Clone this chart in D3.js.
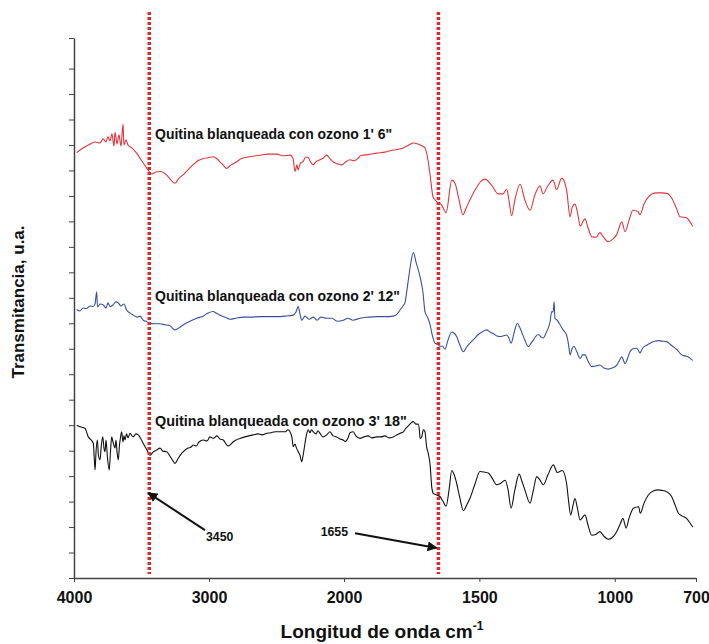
<!DOCTYPE html>
<html>
<head>
<meta charset="utf-8">
<script src="https://cdn.jsdelivr.net/npm/d3@7"></script>
<style>
  body { margin: 0; background: #fff; }
  svg { display: block; font-family: "Liberation Sans", Arial, sans-serif; }
</style>
</head>
<body>
<div id="chart"></div>
<script>
// wavenumber (cm-1) ticks of the FTIR axis, scale changes at 2000
const xTicks = [4000, 3000, 2000, 1500, 1000, 700];
const markers = [3450, 1655];

const seriesNames = [
  "Quitina blanqueada con ozono 1' 6\"",
  "Quitina blanqueada con ozono 2' 12\"",
  "Quitina blanqueada con ozono 3' 18\""
];

// transmittance, arbitrary units (curves are offset)
const spectrum1 = [
  [3980,83.5],[3933,84.4],[3894,85.0],[3844,85.6],[3807,85.4],[3785,86.2],[3763,85.6],[3748,86.6],
  [3733,85.8],[3719,87.2],[3704,84.8],[3696,87.5],[3681,85.2],[3667,87.0],[3652,84.8],[3637,89.1],
  [3630,85.0],[3615,86.0],[3600,85.0],[3570,84.4],[3536,83.4],[3504,82.1],[3462,80.5],[3424,79.3],
  [3392,79.7],[3363,79.8],[3313,79.1],[3281,78.1],[3252,77.5],[3222,78.5],[3193,79.1],[3156,80.1],
  [3119,81.1],[3082,81.9],[3044,82.3],[3007,82.5],[2970,82.7],[2941,82.3],[2919,81.7],[2896,81.1],
  [2869,80.4],[2837,81.1],[2795,81.7],[2763,82.3],[2721,82.6],[2674,82.8],[2622,83.0],[2563,83.2],
  [2499,83.2],[2452,82.9],[2400,83.0],[2378,82.4],[2363,79.8],[2348,81.1],[2341,80.1],[2322,81.5],
  [2304,81.7],[2285,82.6],[2267,82.6],[2248,81.7],[2230,81.1],[2207,81.7],[2178,82.1],[2156,82.4],
  [2128,83.0],[2104,82.3],[2081,81.7],[2052,81.3],[2017,81.1],[1993,81.7],[1978,82.1],[1963,81.9],
  [1948,82.4],[1941,82.8],[1935,83.0],[1911,83.1],[1879,83.4],[1849,83.6],[1819,84.0],[1793,84.2],
  [1767,84.8],[1745,85.4],[1727,85.2],[1708,84.7],[1701,84.4],[1690,82.1],[1682,79.1],[1671,74.8],
  [1658,73.9],[1639,73.2],[1623,71.7],[1602,78.1],[1590,77.5],[1575,74.2],[1561,71.3],[1549,72.6],
  [1535,74.2],[1510,76.7],[1494,77.9],[1479,78.3],[1455,77.1],[1430,75.4],[1413,75.4],[1399,76.3],
  [1391,74.2],[1381,71.1],[1369,74.2],[1350,77.3],[1332,74.2],[1313,72.2],[1295,75.2],[1276,77.0],
  [1265,75.4],[1247,77.0],[1228,78.1],[1215,76.2],[1196,78.5],[1178,76.2],[1165,70.9],[1158,72.6],
  [1147,73.4],[1136,71.3],[1128,69.1],[1110,70.5],[1099,68.8],[1085,67.0],[1069,66.9],[1055,67.8],
  [1040,66.8],[1024,66.0],[1010,66.4],[993,67.4],[974,69.9],[962,68.0],[947,70.3],[933,72.2],
  [914,71.9],[907,71.3],[892,73.4],[877,74.7],[863,75.4],[845,75.6],[826,75.6],[808,75.5],
  [790,74.6],[774,72.8],[759,70.9],[735,70.7],[722,69.9],[712,69.0]
];

const spectrum2 = [
  [3980,52.7],[3956,52.4],[3933,53.0],[3906,52.9],[3881,53.4],[3857,53.3],[3844,53.8],[3832,56.2],
  [3826,53.2],[3807,53.8],[3783,53.6],[3763,53.0],[3748,54.0],[3733,53.3],[3711,53.6],[3689,54.2],
  [3672,54.0],[3652,53.4],[3630,53.8],[3610,52.6],[3585,52.0],[3561,51.6],[3533,51.2],[3511,51.4],
  [3487,50.6],[3467,50.4],[3437,50.0],[3400,49.9],[3363,49.9],[3326,49.7],[3289,49.5],[3252,48.7],
  [3222,49.1],[3190,49.7],[3141,50.4],[3091,51.0],[3044,51.4],[3007,52.0],[2968,52.3],[2948,52.0],
  [2919,51.6],[2881,51.2],[2844,50.8],[2800,51.0],[2746,51.2],[2696,51.2],[2622,51.3],[2563,51.3],
  [2499,51.3],[2437,51.4],[2376,51.6],[2356,52.2],[2339,53.3],[2326,51.8],[2313,50.6],[2289,51.4],
  [2259,50.8],[2227,51.2],[2200,50.6],[2170,51.2],[2128,51.0],[2089,51.0],[2052,50.4],[2005,50.6],
  [1985,51.0],[1967,50.6],[1941,51.0],[1911,51.2],[1879,51.3],[1849,51.3],[1818,51.4],[1804,51.8],
  [1793,52.6],[1782,53.4],[1775,54.0],[1765,57.5],[1756,60.9],[1744,63.9],[1734,62.0],[1719,59.1],
  [1708,55.9],[1701,52.3],[1690,51.0],[1682,49.7],[1675,47.9],[1664,46.1],[1655,45.9],[1645,45.5],
  [1636,45.5],[1627,44.9],[1616,46.7],[1602,48.3],[1594,48.1],[1584,47.4],[1572,45.7],[1559,44.4],
  [1549,45.2],[1535,46.1],[1520,46.9],[1504,47.8],[1490,48.3],[1473,48.7],[1461,48.3],[1449,48.0],
  [1435,47.5],[1424,47.4],[1413,47.5],[1399,47.7],[1391,47.1],[1383,46.1],[1372,48.1],[1360,50.0],
  [1352,49.3],[1344,48.3],[1332,46.7],[1319,45.4],[1309,46.1],[1301,46.7],[1291,47.5],[1282,47.8],
  [1272,47.3],[1264,47.1],[1254,48.1],[1239,50.3],[1233,52.3],[1228,52.2],[1224,54.2],[1221,51.0],
  [1213,50.6],[1202,49.7],[1191,48.7],[1178,47.7],[1171,45.9],[1165,43.8],[1158,45.0],[1151,45.5],
  [1140,44.4],[1128,43.1],[1119,43.8],[1110,43.8],[1099,42.6],[1085,41.5],[1069,41.6],[1055,41.8],
  [1040,41.2],[1024,41.0],[1010,41.2],[993,41.8],[984,42.6],[974,43.4],[962,42.1],[951,43.4],
  [944,44.4],[933,45.0],[919,45.1],[907,44.2],[896,45.2],[882,45.7],[863,46.3],[839,46.6],
  [826,46.5],[808,46.4],[796,45.9],[784,45.4],[770,44.8],[753,43.8],[741,43.6],[728,43.4],
  [719,43.0],[712,42.7]
];

const spectrum3 = [
  [3980,30.0],[3956,29.7],[3919,29.4],[3894,27.7],[3874,27.1],[3857,26.4],[3850,23.6],[3844,21.2],
  [3837,24.7],[3827,27.1],[3819,24.1],[3807,23.2],[3798,25.9],[3787,27.7],[3778,25.5],[3770,24.8],
  [3763,27.1],[3752,23.6],[3739,21.2],[3730,24.7],[3721,27.7],[3711,26.7],[3696,25.5],[3689,27.1],
  [3681,24.7],[3672,23.2],[3663,26.1],[3656,27.5],[3647,28.7],[3637,26.7],[3630,27.9],[3622,27.1],
  [3611,28.3],[3600,27.5],[3585,28.4],[3563,27.7],[3541,28.3],[3524,28.1],[3504,27.3],[3487,26.4],
  [3459,25.1],[3437,24.1],[3415,24.7],[3387,25.1],[3363,25.5],[3341,24.9],[3313,24.8],[3289,23.9],
  [3267,23.0],[3252,22.5],[3230,23.4],[3207,24.3],[3190,24.8],[3156,25.5],[3133,25.7],[3116,26.1],
  [3096,25.9],[3074,26.7],[3042,27.1],[3015,26.9],[2993,27.7],[2968,27.4],[2941,27.9],[2919,27.3],
  [2894,27.1],[2874,26.3],[2859,25.9],[2844,26.1],[2822,26.7],[2800,27.1],[2770,27.4],[2733,27.7],
  [2704,27.9],[2672,28.1],[2637,28.3],[2607,28.1],[2573,28.4],[2541,28.5],[2511,28.7],[2474,28.7],
  [2437,28.7],[2415,29.1],[2400,28.7],[2385,27.5],[2376,25.8],[2363,26.3],[2352,25.5],[2339,24.8],
  [2326,24.1],[2313,22.8],[2304,23.9],[2289,26.4],[2278,28.1],[2265,29.1],[2252,28.5],[2241,29.1],
  [2228,28.7],[2207,28.3],[2193,28.9],[2178,28.4],[2156,27.7],[2128,28.1],[2104,28.7],[2081,27.9],
  [2054,27.7],[2030,27.3],[2007,27.1],[1996,26.8],[1985,27.5],[1978,28.5],[1966,28.7],[1956,27.9],
  [1941,27.4],[1926,27.7],[1911,27.9],[1897,27.5],[1879,27.7],[1863,27.7],[1849,27.9],[1834,27.5],
  [1818,27.7],[1804,28.1],[1793,28.4],[1781,28.7],[1771,29.4],[1760,30.0],[1753,30.4],[1744,30.7],
  [1734,30.2],[1726,30.2],[1721,28.7],[1719,27.4],[1713,27.7],[1707,29.1],[1701,28.7],[1695,25.8],
  [1689,24.5],[1682,22.2],[1676,17.9],[1670,16.6],[1658,16.3],[1646,16.0],[1635,15.1],[1623,14.1],
  [1612,17.3],[1602,21.1],[1594,20.4],[1584,18.6],[1572,15.7],[1559,13.2],[1547,14.3],[1535,15.6],
  [1516,18.5],[1498,20.9],[1483,20.8],[1467,20.6],[1453,19.6],[1436,18.3],[1424,18.5],[1405,19.2],
  [1394,17.3],[1383,13.7],[1369,17.3],[1353,20.4],[1343,19.0],[1332,17.3],[1313,14.7],[1302,16.9],
  [1288,19.9],[1276,19.2],[1264,18.3],[1247,20.2],[1227,22.2],[1212,20.7],[1194,21.1],[1178,18.6],
  [1171,15.3],[1163,12.4],[1154,14.3],[1147,15.6],[1138,13.7],[1128,11.4],[1110,12.4],[1099,10.4],
  [1085,8.4],[1069,8.6],[1055,9.1],[1040,8.2],[1024,7.6],[1010,7.9],[993,9.1],[980,10.6],
  [970,11.7],[958,9.8],[947,11.8],[931,13.7],[912,14.0],[906,12.7],[892,14.7],[876,16.3],
  [858,17.1],[839,17.3],[826,17.2],[808,16.9],[790,16.0],[777,14.3],[765,12.7],[752,12.2],
  [735,11.7],[722,10.8],[712,10.0]
];

const spectra = [spectrum1, spectrum2, spectrum3];
const colors = ["#e0353b", "#3c4f9e", "#111111"];
const labelPos = [[3400, 86.2], [3400, 54.4], [3400, 29.8]];

const width = 709, height = 644;
const svg = d3.select("#chart").append("svg")
  .attr("width", width).attr("height", height);

// FTIR style axis: 4000-2000 compressed, 2000-700 expanded
const x = d3.scaleLinear().domain([4000, 2000, 700]).range([74, 344, 696]);
const y = d3.scaleLinear().domain([0, 106]).range([578, 38]);

// axes
const xAxis = svg.append("g")
  .attr("transform", `translate(0,${y(0)})`)
  .call(d3.axisBottom(x).tickValues(xTicks).tickSize(4).tickSizeOuter(0).tickFormat(d3.format("d")));
xAxis.select(".domain").attr("stroke", "#444").attr("stroke-width", 1.5);
xAxis.selectAll(".tick line").attr("stroke", "#444");
xAxis.selectAll("text").attr("y", 25).attr("dy", 0)
  .attr("font-size", 16).attr("font-weight", "bold").attr("fill", "#111");

const yTickVals = d3.range(0, 101, 5).concat([106]);
const yAxis = svg.append("g")
  .attr("transform", `translate(${x(4000)},0)`)
  .call(d3.axisLeft(y).tickValues(yTickVals).tickSize(5).tickSizeOuter(0).tickFormat(""));
yAxis.select(".domain").attr("stroke", "#444").attr("stroke-width", 1.5);
yAxis.selectAll(".tick line").attr("stroke", "#444");

// axis titles
svg.append("text")
  .attr("transform", "translate(24,302) rotate(-90)")
  .attr("text-anchor", "middle")
  .attr("font-size", 17).attr("font-weight", "bold").attr("fill", "#111")
  .text("Transmitancia, u.a.");

const xt = svg.append("text")
  .attr("x", 382).attr("y", 638)
  .attr("text-anchor", "middle")
  .attr("font-size", 19).attr("font-weight", "bold").attr("fill", "#111")
  .text("Longitud de onda cm");
xt.append("tspan").attr("font-size", 12).attr("dy", -8).text("-1");

// spectra
const line = d3.line().x(d => x(d[0])).y(d => y(d[1])).curve(d3.curveMonotoneX);
svg.selectAll("path.spec")
  .data(spectra)
  .join("path")
  .attr("class", "spec")
  .attr("fill", "none")
  .attr("stroke", (d, i) => colors[i])
  .attr("stroke-width", 1.1)
  .attr("stroke-linejoin", "round")
  .attr("d", line);

// red dashed marker lines
svg.selectAll("line.marker")
  .data(markers)
  .join("line")
  .attr("class", "marker")
  .attr("x1", d => x(d) + 1).attr("x2", d => x(d) + 1)
  .attr("y1", 12).attr("y2", 574)
  .attr("stroke", "#e02a2a")
  .attr("stroke-width", 3.5)
  .attr("stroke-dasharray", "3,2");

// series labels
svg.selectAll("text.lab")
  .data(seriesNames)
  .join("text")
  .attr("class", "lab")
  .attr("x", (d, i) => x(labelPos[i][0]))
  .attr("y", (d, i) => y(labelPos[i][1]))
  .attr("font-size", (d, i) => [14, 14, 14.4][i]).attr("font-weight", "bold").attr("fill", "#111")
  .text(d => d);

// arrows to the marked bands
svg.append("defs").append("marker")
  .attr("id", "head")
  .attr("viewBox", "0 0 10 10")
  .attr("refX", 9).attr("refY", 5)
  .attr("markerWidth", 5).attr("markerHeight", 5)
  .attr("orient", "auto")
  .append("path").attr("d", "M0,0L10,5L0,10z").attr("fill", "#111");

const arrows = [
  { from: [3030, 9.4], to: [3450, 16.7], text: "3450", at: [3022, 7.3], anchor: "start" },
  { from: [1959, 8.8], to: [1658, 5.9], text: "1655", at: [1985, 8.2], anchor: "end" }
];
arrows.forEach(a => {
  svg.append("line")
    .attr("x1", x(a.from[0])).attr("y1", y(a.from[1]))
    .attr("x2", x(a.to[0])).attr("y2", y(a.to[1]))
    .attr("stroke", "#111").attr("stroke-width", 2)
    .attr("marker-end", "url(#head)");
  svg.append("text")
    .attr("x", x(a.at[0])).attr("y", y(a.at[1]))
    .attr("text-anchor", a.anchor)
    .attr("font-size", 12.3).attr("font-weight", "bold").attr("fill", "#111")
    .text(a.text);
});
</script>
</body>
</html>
